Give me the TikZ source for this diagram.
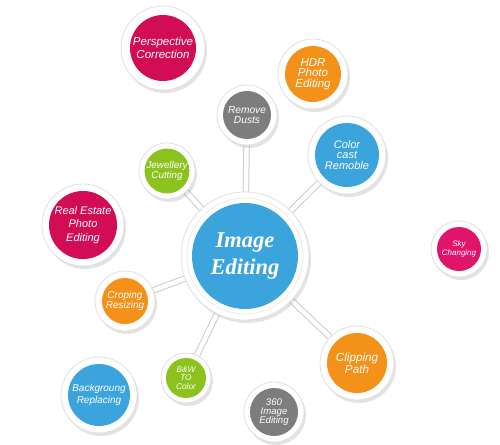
\documentclass[tikz,border=0pt]{standalone}
\usepackage{fontspec}
\setmainfont{Liberation Sans}
\newfontfamily\centfont{Liberation Serif}
\usetikzlibrary{shadows,backgrounds}
\definecolor{cred}{HTML}{D20D56}
\definecolor{cpink}{HTML}{E0146B}
\definecolor{corange}{HTML}{F39118}
\definecolor{cblue}{HTML}{3BA4DC}
\definecolor{cgreen}{HTML}{8CC21E}
\definecolor{cgray}{HTML}{7D7D7D}
\newcommand\bub[9]{%
  \node[ring,minimum size=2*#4pt] (#1o) at (#2,#3) {};
  \node[core,fill=#6,minimum size=2*#5pt,font=\itshape\fontsize{#8}{#9}\selectfont] (#1) at (#2,#3) {#7};}
\begin{document}
\begin{tikzpicture}[x=1pt,y=-1pt,
  ring/.style={circle,fill=white,draw=black!12,line width=0.8pt,inner sep=0pt,
    drop shadow={opacity=0.22,shadow xshift=2pt,shadow yshift=-3pt}},
  core/.style={circle,inner sep=0pt,text=white,align=center},
  link/.style={draw=black!20,line width=6.5pt},
  linkin/.style={draw=white,line width=4.5pt}]
\useasboundingbox (0,0) rectangle (500,444);

% centre
\node[ring,minimum size=128pt] (ceno) at (245,256) {};
\node[circle,draw=black!8,line width=0.8pt,minimum size=116pt,inner sep=0pt] (cenr) at (245,256) {};
\node[core,fill=cblue,minimum size=106pt,font=\centfont\bfseries\itshape\fontsize{22.5}{27}\selectfont] (cen) at (245,256) {Image\\Editing};

\bub{pc}{163}{48}{42}{33}{cred}{Perspective\\Correction}{11.5}{13}
\bub{hdr}{313}{74}{35}{28}{corange}{HDR\\Photo\\Editing}{11.5}{10.5}
\bub{rd}{247}{115}{30}{24}{cgray}{Remove\\Dusts}{10.2}{9.5}
\bub{cc}{347}{155}{39}{32}{cblue}{Color\\cast\\Remoble}{11}{10.5}
\bub{sky}{459}{249}{28}{22}{cpink}{Sky\\Changing}{8}{9}
\bub{jc}{167}{171}{28}{22}{cgreen}{Jewellery\\Cutting}{9.8}{9.5}
\bub{re}{83}{225}{41}{33}{cred}{Real Estate\\Photo\\Editing}{11}{13.5}
\bub{cr}{125}{301}{30}{23}{corange}{Croping\\Resizing}{10}{10}
\bub{bg}{99}{395}{38}{31}{cblue}{Backgroung\\Replacing}{10}{12}
\bub{bw}{186}{378}{25}{20}{cgreen}{B\&W\\TO\\Color}{8.3}{8.4}
\bub{cp}{357}{363}{37}{30}{corange}{Clipping\\Path}{11.7}{10}
\bub{ie}{274}{412}{30}{24}{cgray}{360\\Image\\Editing}{9.6}{9.2}

\begin{pgfonlayer}{background}
\fill[white] (0,0) rectangle (500,444);
\foreach \t in {jco,rdo,cco,cro,bwo,cpo}{
  \draw[link] (ceno) -- (\t);
  \draw[linkin] (ceno) -- (\t);
}
\end{pgfonlayer}
\end{tikzpicture}
\end{document}
